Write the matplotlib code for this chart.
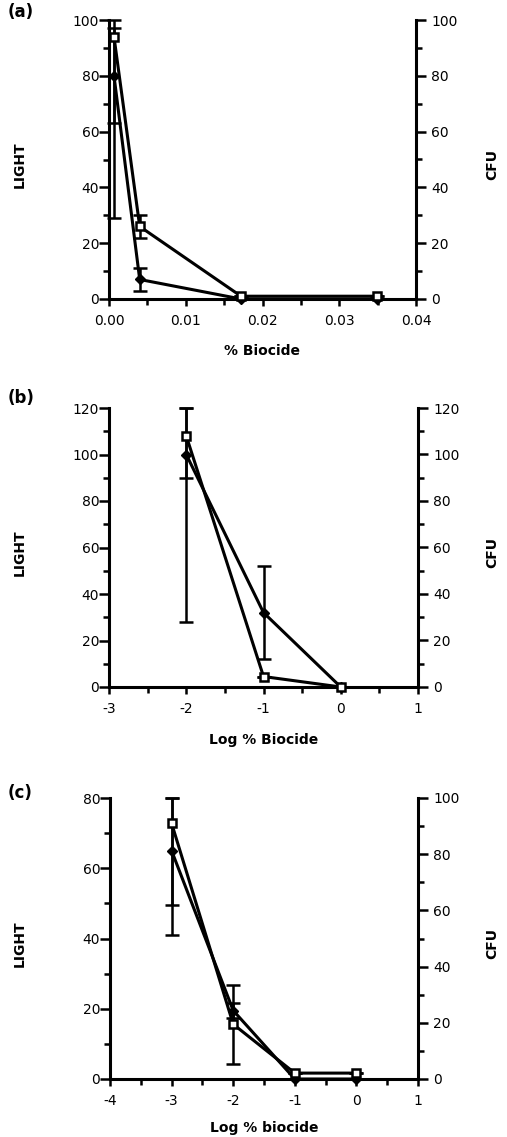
import matplotlib
matplotlib.use("Agg")
import matplotlib.pyplot as plt
import numpy as np
from matplotlib.ticker import MultipleLocator

plt.rcParams['font.family'] = ['DejaVu Sans']

# ---------------- data ----------------
# panel (a)
a_x = [0.00065, 0.004, 0.0172, 0.0349]
a_light = [80, 7, 0, 0]
a_light_err_lo = [51, 4, 0, 0]
a_light_err_hi = [20, 4, 0, 0]
a_cfu = [94, 26, 1, 1]
a_cfu_err_lo = [31, 4, 0, 0]
a_cfu_err_hi = [3, 4, 0, 0]

# panel (b)
b_x = [-2, -1, 0]
b_light = [100, 32, 0]
b_light_err_lo = [72, 20, 0]
b_light_err_hi = [20, 20, 0]
b_cfu = [108, 4.5, 0]
b_cfu_err_lo = [18, 0, 0]
b_cfu_err_hi = [12, 0, 0]

# panel (c)
c_x = [-3, -2, -1, 0]
c_light = [65, 19.5, 0, 0]
c_light_err_lo = [24, 2, 0, 0]
c_light_err_hi = [15, 2, 0, 0]
c_cfu = [91, 19.5, 2.1, 2.1]          # right-axis units (0-100)
c_cfu_err_lo = [29, 14, 0, 0]
c_cfu_err_hi = [9, 14, 0, 0]

panels = [
    dict(tag="(a)", x=a_x, light=a_light, lel=a_light_err_lo, leh=a_light_err_hi,
         cfu=a_cfu, cel=a_cfu_err_lo, ceh=a_cfu_err_hi,
         xlim=(0, 0.04), xmaj=0.01, xmin=0.005, xfmt="%.2f",
         ylim=(0, 100), ymaj=20, ymin=10, rlim=(0, 100), rmaj=20, rmin=10,
         xlabel="% Biocide"),
    dict(tag="(b)", x=b_x, light=b_light, lel=b_light_err_lo, leh=b_light_err_hi,
         cfu=b_cfu, cel=b_cfu_err_lo, ceh=b_cfu_err_hi,
         xlim=(-3, 1), xmaj=1, xmin=0.5, xfmt="%d",
         ylim=(0, 120), ymaj=20, ymin=10, rlim=(0, 120), rmaj=20, rmin=10,
         xlabel="Log % Biocide"),
    dict(tag="(c)", x=c_x, light=c_light, lel=c_light_err_lo, leh=c_light_err_hi,
         cfu=c_cfu, cel=c_cfu_err_lo, ceh=c_cfu_err_hi,
         xlim=(-4, 1), xmaj=1, xmin=0.5, xfmt="%d",
         ylim=(0, 80), ymaj=20, ymin=10, rlim=(0, 100), rmaj=20, rmin=10,
         xlabel="Log % biocide"),
]

W, H = 507, 1137
fig = plt.figure(figsize=(W / 100, H / 100), dpi=100)

# axes boxes in pixels: left, right, top, bottom
boxes = [(109, 416, 20, 299), (109, 418, 408, 687), (110, 418, 798, 1079)]
xlabel_y = [351, 740, 1128]
tag_y = [12, 398, 793]

lw = 2.2
for p, (l, r, t, b), xly, ty in zip(panels, boxes, xlabel_y, tag_y):
    ax = fig.add_axes([l / W, 1 - b / H, (r - l) / W, (b - t) / H])
    ax2 = ax.twinx()
    for a in (ax, ax2):
        a.spines['top'].set_visible(False)
        for s in ('left', 'right', 'bottom'):
            a.spines[s].set_linewidth(lw)
        a.patch.set_visible(False)
    ax.spines['right'].set_visible(False)
    ax2.spines['left'].set_visible(False)
    ax2.spines['bottom'].set_visible(False)

    ax.set_xlim(*p['xlim'])
    ax.set_ylim(*p['ylim'])
    ax2.set_ylim(*p['rlim'])
    ax.xaxis.set_major_locator(MultipleLocator(p['xmaj']))
    ax.xaxis.set_minor_locator(MultipleLocator(p['xmin']))
    ax.xaxis.set_major_formatter(matplotlib.ticker.FormatStrFormatter(p['xfmt']))
    ax.yaxis.set_major_locator(MultipleLocator(p['ymaj']))
    ax.yaxis.set_minor_locator(MultipleLocator(p['ymin']))
    ax2.yaxis.set_major_locator(MultipleLocator(p['rmaj']))
    ax2.yaxis.set_minor_locator(MultipleLocator(p['rmin']))

    ax.tick_params(axis='y', which='major', direction='out', length=7, width=1.8,
                   pad=0, labelsize=10)
    ax.tick_params(axis='y', which='minor', direction='out', length=4, width=1.8)
    ax.tick_params(axis='x', which='major', direction='out', length=5, width=1.8,
                   pad=6, labelsize=10)
    ax.tick_params(axis='x', which='minor', direction='out', length=4, width=1.8)
    ax2.tick_params(axis='y', which='major', direction='out', length=7, width=1.8,
                    pad=4, labelsize=10)
    ax2.tick_params(axis='y', which='minor', direction='out', length=4, width=1.8)

    ax.errorbar(p['x'], p['light'], yerr=[p['lel'], p['leh']], color='black',
                lw=lw, marker='D', markersize=5, mfc='black', mec='black',
                capsize=5, capthick=1.8, elinewidth=1.8, clip_on=False, zorder=3)
    ax2.errorbar(p['x'], p['cfu'], yerr=[p['cel'], p['ceh']], color='black',
                 lw=lw, marker='s', markersize=6, mfc='white', mec='black', mew=1.8,
                 capsize=5, capthick=1.8, elinewidth=1.8, clip_on=False, zorder=3)

    cy = (t + b) / 2
    fig.text(20 / W, 1 - (cy + 5) / H, "LIGHT", rotation=90, ha='center', va='center',
             fontsize=10, fontweight='bold')
    fig.text(492 / W, 1 - (cy + 5) / H, "CFU", rotation=90, ha='center', va='center',
             fontsize=10, fontweight='bold')
    fig.text(((l + r) / 2 + 0) / W, 1 - xly / H, p['xlabel'], ha='center', va='center',
             fontsize=10, fontweight='bold')
    fig.text(8 / W, 1 - ty / H, p['tag'], ha='left', va='center',
             fontsize=12, fontweight='bold')

fig.savefig("out.png", dpi=100)
